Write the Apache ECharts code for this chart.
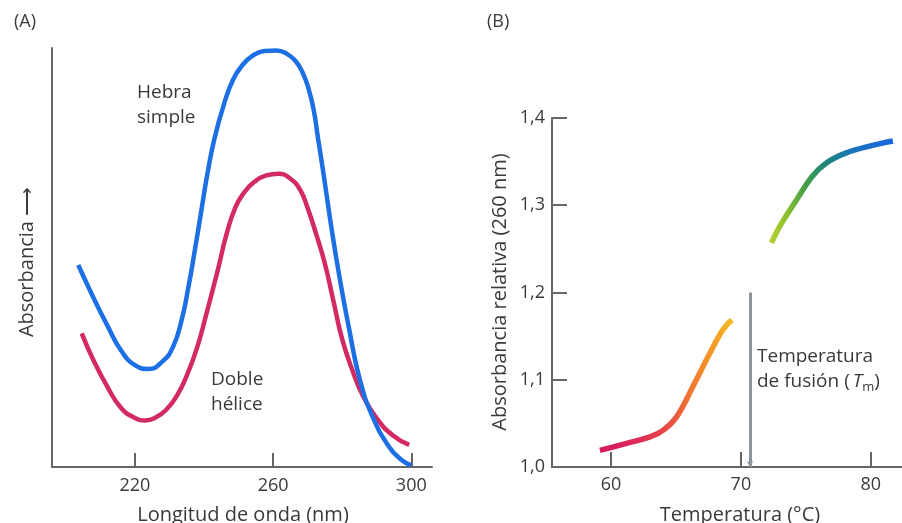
<!DOCTYPE html>
<html>
<head>
<meta charset="utf-8">
<script src="https://cdn.jsdelivr.net/npm/echarts@6/dist/echarts.min.js"></script>
<style>
html,body{margin:0;padding:0;background:#fff;}
#c{width:902px;height:523px;}
</style>
</head>
<body>
<div id="c"></div>
<script>
// ---- Panel A: absorbance spectra (arbitrary units) ----
const wavelengthTicks = [220, 260, 300];
const hebraSimple = [
  [203.6,48.2],[208,40.4],[212,33.8],[216,27.8],[220,24.3],[224,23.4],[228,25.2],
  [231,28.6],[233.5,35],[235.5,43],[237.3,51.5],[239,60],[241,70],[243,78.3],[246,87.2],
  [248.5,92.6],[251,95.8],[254,98.1],[257.5,99.3],[261,99.4],[264,98.6],[266.5,96.9],
  [268.5,94.2],[270.3,90.2],[271.8,85],[273,78.5],[274.5,70.5],[277,56.5],[279.5,44],
  [282,33],[285,21.2],[288.8,12],[293.6,4.8],[297,1.8],[300,0.4]
];
const dobleHelice = [
  [204.6,31.9],[208,25.5],[212,19.2],[216,14.1],[220,11.7],[223,11.1],[226,11.8],
  [229,13.6],[232,16.8],[235,21.8],[238,28.5],[241,37.5],[244,47],[246.5,55.5],
  [249,61.8],[251.5,65.4],[254.5,68],[258,69.6],[261.5,70],[265,68.8],[267.8,66.2],
  [270,61.8],[272.5,55.5],[275,48.5],[277.5,39.5],[280,30.5],[283,23],[286,17],[290,11.6],
  [294.6,7.6],[299.4,5.3]
];

// ---- Panel B: melting curve ----
const tempTicks = [60, 70, 80];
const meltingCurve = [
  [59.15,1.019],[61.2,1.027],[63.0,1.0345],[64.0,1.042],[65.05,1.0575],[66.3,1.092],
  [67.6,1.130],[68.6,1.157],[69.3,1.1686],[70.8,null],
  [72.35,1.2568],[73.0,1.276],[74.3,1.3066],[75.5,1.3333],[76.6,1.3487],[78.1,1.360],
  [79.9,1.3678],[81.7,1.3736]
];
const tmValue = 70.7;
const tmTop = 1.2;

const FONT = '"Open Sans", "Noto Sans", sans-serif';
const TXT = '#3a3a3a';
const AXC = '#666';

const chart = echarts.init(document.getElementById('c'));

const gradB = new echarts.graphic.LinearGradient(0, 0, 1, 0, [
  {offset: 0.00, color: '#d5175e'},
  {offset: 0.13, color: '#dc2a58'},
  {offset: 0.22, color: '#e84449'},
  {offset: 0.28, color: '#ee6339'},
  {offset: 0.35, color: '#f38a2c'},
  {offset: 0.42, color: '#f6ab22'},
  {offset: 0.46, color: '#f7bd28'},
  {offset: 0.586, color: '#b4cf2e'},
  {offset: 0.64, color: '#86bd30'},
  {offset: 0.70, color: '#409e48'},
  {offset: 0.77, color: '#1f8580'},
  {offset: 0.86, color: '#1a74bc'},
  {offset: 1.00, color: '#1766e2'}
]);

chart.setOption({
  backgroundColor: '#fff',
  animation: false,
  grid: [
    {left: 52, top: 48, width: 380, height: 419},
    {left: 552, top: 118, width: 350, height: 349}
  ],
  xAxis: [
    {
      gridIndex: 0, type: 'value', min: 196, max: 306,
      splitLine: {show: false},
      axisLine: {lineStyle: {color: AXC, width: 2}},
      axisTick: {inside: true, length: 14, customValues: wavelengthTicks, lineStyle: {color: AXC, width: 2}},
      axisLabel: {customValues: wavelengthTicks, margin: 10, color: TXT, fontSize: 18, fontFamily: FONT}
    },
    {
      gridIndex: 1, type: 'value', min: 55.46, max: 82.4,
      splitLine: {show: false},
      axisLine: {lineStyle: {color: AXC, width: 2}},
      axisTick: {inside: true, length: 15, customValues: tempTicks, lineStyle: {color: AXC, width: 2}},
      axisLabel: {customValues: tempTicks, margin: 9, color: TXT, fontSize: 18, fontFamily: FONT}
    }
  ],
  yAxis: [
    {
      gridIndex: 0, type: 'value', min: 0, max: 100,
      splitLine: {show: false},
      axisLine: {show: true, lineStyle: {color: AXC, width: 2}},
      axisTick: {show: false},
      axisLabel: {show: false}
    },
    {
      gridIndex: 1, type: 'value', min: 1.0, max: 1.4, interval: 0.1,
      splitLine: {show: false},
      axisLine: {show: true, lineStyle: {color: AXC, width: 2}},
      axisTick: {inside: true, length: 15, lineStyle: {color: AXC, width: 2}},
      axisLabel: {
        margin: 7, color: TXT, fontSize: 18, fontFamily: FONT,
        formatter: v => v.toFixed(1).replace('.', ',')
      }
    }
  ],
  series: [
    {
      name: 'Hebra simple', type: 'line', xAxisIndex: 0, yAxisIndex: 0,
      data: hebraSimple, smooth: 0.5, showSymbol: false,
      lineStyle: {color: '#1c6fe4', width: 4.5}, z: 3
    },
    {
      name: 'Doble hélice', type: 'line', xAxisIndex: 0, yAxisIndex: 0,
      data: dobleHelice, smooth: 0.5, showSymbol: false,
      lineStyle: {color: '#d42a62', width: 4.5}, z: 2
    },
    {
      name: 'Fusión', type: 'line', xAxisIndex: 1, yAxisIndex: 1,
      data: meltingCurve, smooth: 0.4, showSymbol: false, connectNulls: false,
      lineStyle: {color: gradB, width: 5.5},
      markLine: {
        silent: true, symbol: ['none', 'arrow'], symbolSize: [5, 6],
        label: {show: false},
        lineStyle: {color: '#8f949a', width: 3, type: 'solid'},
        data: [[{coord: [tmValue, tmTop]}, {coord: [tmValue, 1.0]}]]
      }
    }
  ],
  graphic: [
    {type: 'text', left: 14, top: 13, style: {text: '(A)', fill: TXT, fontSize: 18, fontFamily: FONT}},
    {type: 'text', left: 487, top: 13, style: {text: '(B)', fill: TXT, fontSize: 18, fontFamily: FONT}},
    {type: 'text', x: 137, y: 80, style: {text: 'Hebra\nsimple', fill: TXT, fontSize: 19, lineHeight: 25, fontFamily: FONT}},
    {type: 'text', x: 211, y: 367, style: {text: 'Doble\nhélice', fill: TXT, fontSize: 19, lineHeight: 25, fontFamily: FONT}},
    {type: 'text', x: 27, y: 262, rotation: Math.PI / 2,
      style: {text: 'Absorbancia \u27F6', fill: TXT, fontSize: 20, fontFamily: FONT, align: 'center', verticalAlign: 'middle'}},
    {type: 'text', x: 500, y: 292, rotation: Math.PI / 2,
      style: {text: 'Absorbancia relativa (260 nm)', fill: TXT, fontSize: 20, fontFamily: FONT, align: 'center', verticalAlign: 'middle'}},
    {type: 'text', x: 243, y: 515,
      style: {text: 'Longitud de onda (nm)', fill: TXT, fontSize: 20, fontFamily: FONT, align: 'center', verticalAlign: 'middle'}},
    {type: 'text', x: 740, y: 515,
      style: {text: 'Temperatura (°C)', fill: TXT, fontSize: 20, fontFamily: FONT, align: 'center', verticalAlign: 'middle'}},
    {type: 'text', x: 757, y: 344,
      style: {
        text: '{n|Temperatura}\n{n|de fusión (}{it|T}{sub|m}{n|)}',
        fill: TXT, fontFamily: FONT,
        rich: {
          n: {fontSize: 19, lineHeight: 25, fill: TXT, fontFamily: FONT, verticalAlign: 'middle'},
          it: {fontSize: 19, lineHeight: 25, fill: TXT, fontFamily: FONT, fontStyle: 'italic', verticalAlign: 'middle', padding: [0, 0, 0, 3]},
          sub: {fontSize: 13, lineHeight: 25, fill: TXT, fontFamily: FONT, verticalAlign: 'bottom', padding: [0, 0, 0, 0]}
        }
      }}
  ]
});
</script>
</body>
</html>
